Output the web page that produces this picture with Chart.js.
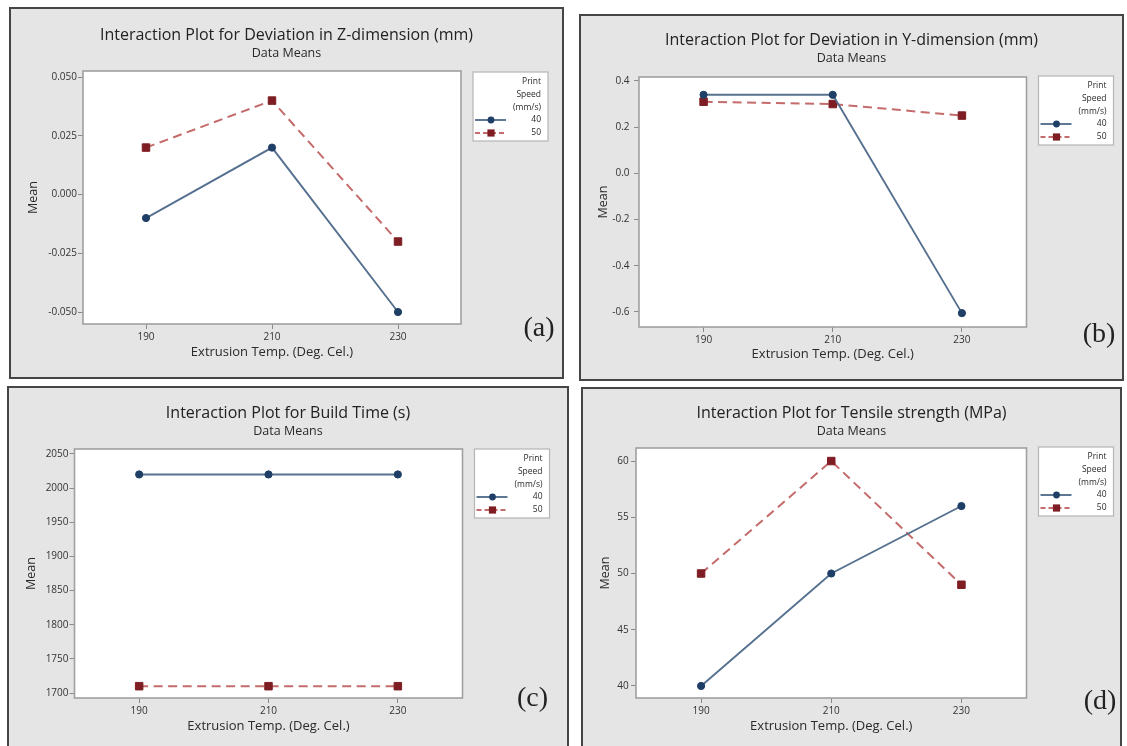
<!DOCTYPE html>
<html>
<head>
<meta charset="utf-8">
<title>Interaction Plots</title>
<script src="https://cdn.jsdelivr.net/npm/chart.js@4.4.1/dist/chart.umd.min.js"></script>
<style>
  html, body { margin: 0; padding: 0; background: #fff; overflow: hidden; }
  body { width: 1127px; height: 746px; position: relative; }
  .panel { position: absolute; background: #e5e5e5; border: 2px solid #454545; box-sizing: border-box; overflow: hidden; }
  .panel canvas { display: block; }
</style>
</head>
<body>
<div class="panel" style="left:9px; top:7px; width:555px; height:372px;"><canvas id="chartA" width="551" height="368"></canvas></div>
<div class="panel" style="left:579px; top:14px; width:545px; height:367px;"><canvas id="chartB" width="541" height="363"></canvas></div>
<div class="panel" style="left:7px; top:386px; width:562px; height:362px;"><canvas id="chartC" width="558" height="358"></canvas></div>
<div class="panel" style="left:581px; top:387px; width:541px; height:361px;"><canvas id="chartD" width="537" height="357"></canvas></div>
<script>
// Shared categories
const tempLabels = ['190', '210', '230'];
const speedLabels = ['40', '50'];
const legendHeading = ['Print', 'Speed', '(mm/s)'];

// (a) Deviation in Z-dimension (mm)
const zDev40 = [-0.01, 0.02, -0.05];
const zDev50 = [0.02, 0.04, -0.02];
const zTicks = ['-0.050', '-0.025', '0.000', '0.025', '0.050'];
const zRange = [-0.0551, 0.0526];

// (b) Deviation in Y-dimension (mm)
const yDev40 = [0.34, 0.34, -0.605];
const yDev50 = [0.31, 0.30, 0.25];
const yTicks = ['-0.6', '-0.4', '-0.2', '0.0', '0.2', '0.4'];
const yRange = [-0.665, 0.417];

// (c) Build Time (s)
const buildTime40 = [2020, 2020, 2020];
const buildTime50 = [1710, 1710, 1710];
const buildTicks = ['1700', '1750', '1800', '1850', '1900', '1950', '2000', '2050'];
const buildRange = [1692.7, 2057.3];

// (d) Tensile strength (MPa)
const tensile40 = [40, 50, 56];
const tensile50 = [50, 60, 49];
const tensileTicks = ['40', '45', '50', '55', '60'];
const tensileRange = [38.93, 61.16];

Chart.defaults.font.family = '"Open Sans", sans-serif';
Chart.defaults.color = '#333';

const TITLE_SIZE = 16;
const SUB_SIZE = 12.5;

// white plot area, frame, legend box and the (a)/(b) tag
const panelDecor = {
    id: 'panelDecor',
    beforeDraw(chart) {
        const { ctx, chartArea: a } = chart;
        ctx.save();
        ctx.fillStyle = '#ffffff';
        ctx.fillRect(a.left, a.top, a.right - a.left, a.bottom - a.top);
        ctx.restore();
    },
    afterDraw(chart, args, opts) {
        const { ctx, chartArea: a } = chart;
        ctx.save();
        ctx.strokeStyle = '#a0a0a0';
        ctx.lineWidth = 1.6;
        ctx.strokeRect(a.left, a.top, a.right - a.left, a.bottom - a.top);

        // legend
        const bx = a.right + 12, by = a.top + opts.legendDy;
        ctx.fillStyle = '#ffffff';
        ctx.fillRect(bx, by, 75, 69);
        ctx.strokeStyle = '#b5b5b5';
        ctx.lineWidth = 1.2;
        ctx.strokeRect(bx, by, 75, 69);
        ctx.font = '8.5px "Open Sans"';
        ctx.textAlign = 'right';
        ctx.textBaseline = 'middle';
        ctx.fillStyle = '#2a2a2a';
        legendHeading.forEach((t, i) => ctx.fillText(t, bx + 68, by + 10 + i * 12.8));
        chart.data.datasets.forEach((ds, i) => {
            const y = by + 48 + i * 13;
            ctx.strokeStyle = ds.borderColor;
            ctx.lineWidth = ds.borderWidth;
            ctx.setLineDash(ds.borderDash ? [5, 3] : []);
            ctx.beginPath();
            ctx.moveTo(bx + 2, y);
            ctx.lineTo(bx + 33, y);
            ctx.stroke();
            ctx.setLineDash([]);
            ctx.fillStyle = ds.pointBackgroundColor;
            if (ds.pointStyle === 'rect') {
                ctx.fillRect(bx + 18 - 3.6, y - 3.6, 7.2, 7.2);
            } else {
                ctx.beginPath();
                ctx.arc(bx + 18, y, 3.4, 0, Math.PI * 2);
                ctx.fill();
            }
            ctx.fillStyle = '#2a2a2a';
            ctx.fillText(ds.label, bx + 68, y);
        });

        // panel tag
        ctx.font = '28px "Liberation Serif", serif';
        ctx.textAlign = 'center';
        ctx.fillStyle = '#222';
        ctx.fillText(opts.tag, a.right + opts.tagDx, a.bottom + opts.tagDy);
        ctx.restore();
    }
};

function makeInteractionChart(id, cfg) {
    const canvas = document.getElementById(id);
    const w = canvas.width, h = canvas.height;
    const titleHalf = TITLE_SIZE * 1.2 / 2;
    const subHalf = SUB_SIZE * 1.2 / 2;
    const t1 = cfg.titleY - titleHalf;
    const t2 = cfg.subY - cfg.titleY - titleHalf - subHalf;
    const b2 = cfg.box.top - (cfg.subY + subHalf);

    return new Chart(canvas, {
        type: 'line',
        data: {
            labels: tempLabels,
            datasets: [{
                label: speedLabels[0],
                data: cfg.s40,
                borderColor: '#56718f',
                borderWidth: 1.9,
                pointStyle: 'circle',
                pointRadius: 3.6,
                pointBackgroundColor: '#1f3f66',
                pointBorderColor: '#1f3f66',
                pointBorderWidth: 1
            }, {
                label: speedLabels[1],
                data: cfg.s50,
                borderColor: '#c46b6b',
                borderWidth: 2,
                borderDash: [9, 5.5],
                pointStyle: 'rect',
                pointRadius: 5.3,
                pointBackgroundColor: '#7e1e24',
                pointBorderColor: '#7e1e24',
                pointBorderWidth: 1
            }]
        },
        options: {
            responsive: false,
            animation: false,
            layout: { padding: 0 },
            plugins: {
                legend: { display: false },
                tooltip: { enabled: false },
                title: {
                    display: true,
                    text: cfg.title,
                    color: '#222',
                    font: { size: TITLE_SIZE, weight: 'normal' },
                    padding: { top: t1, bottom: 0 }
                },
                subtitle: {
                    display: true,
                    text: 'Data Means',
                    color: '#2a2a2a',
                    font: { size: SUB_SIZE },
                    padding: { top: t2, bottom: b2 }
                },
                panelDecor: { tag: cfg.tag, tagDx: cfg.tagPos[0], tagDy: cfg.tagPos[1], legendDy: cfg.legendDy }
            },
            scales: {
                x: {
                    type: 'category',
                    offset: true,
                    grid: { offset: false, drawOnChartArea: false, drawTicks: true, tickLength: 5, color: '#8a8a8a' },
                    border: { display: false },
                    ticks: { padding: 2, maxRotation: 0, color: '#333', font: { size: 10 } },
                    title: {
                        display: true,
                        text: 'Extrusion Temp. (Deg. Cel.)',
                        color: '#2a2a2a',
                        font: { size: 13 },
                        padding: { top: 0, bottom: cfg.xTitlePad }
                    },
                    afterFit: scale => { scale.height = h - cfg.box.bottom; }
                },
                y: {
                    min: cfg.range[0],
                    max: cfg.range[1],
                    afterBuildTicks: scale => { scale.ticks = cfg.ticks.map(t => ({ value: parseFloat(t) })); },
                    grid: { drawOnChartArea: false, drawTicks: true, tickLength: 5, color: '#8a8a8a' },
                    border: { display: false },
                    ticks: {
                        padding: cfg.yTickPad,
                        color: '#333',
                        font: { size: 10 },
                        callback: (value, index) => cfg.ticks[index]
                    },
                    title: {
                        display: true,
                        text: 'Mean',
                        color: '#2a2a2a',
                        font: { size: 12.5 },
                        padding: { top: 14.5, bottom: 0 }
                    },
                    afterFit: scale => { scale.width = cfg.box.left; }
                },
                // empty right-hand axis that reserves the legend column
                legendSpace: {
                    type: 'linear',
                    position: 'right',
                    grid: { display: false },
                    border: { display: false },
                    ticks: { display: false },
                    afterFit: scale => { scale.width = w - cfg.box.right; }
                }
            }
        },
        plugins: [panelDecor]
    });
}

makeInteractionChart('chartA', {
    title: 'Interaction Plot for Deviation in Z-dimension (mm)',
    s40: zDev40, s50: zDev50, ticks: zTicks, range: zRange,
    box: { left: 72, right: 450, top: 62, bottom: 315 },
    titleY: 26.5, subY: 44.5, yTickPad: 1, xTitlePad: 16.5,
    legendDy: 1, tag: '(a)', tagPos: [78, 5]
});

makeInteractionChart('chartB', {
    title: 'Interaction Plot for Deviation in Y-dimension (mm)',
    s40: yDev40, s50: yDev50, ticks: yTicks, range: yRange,
    box: { left: 58, right: 445.5, top: 61, bottom: 311 },
    titleY: 24.5, subY: 42.5, yTickPad: 4.5, xTitlePad: 16.5,
    legendDy: -1, tag: '(b)', tagPos: [72.5, 8]
});

makeInteractionChart('chartC', {
    title: 'Interaction Plot for Build Time (s)',
    s40: buildTime40, s50: buildTime50, ticks: buildTicks, range: buildRange,
    box: { left: 65.5, right: 453.5, top: 61, bottom: 310 },
    titleY: 25.5, subY: 43.5, yTickPad: 1, xTitlePad: 11.5,
    legendDy: 0, tag: '(c)', tagPos: [70, 1]
});

makeInteractionChart('chartD', {
    title: 'Interaction Plot for Tensile strength (MPa)',
    s40: tensile40, s50: tensile50, ticks: tensileTicks, range: tensileRange,
    box: { left: 53, right: 443.5, top: 59, bottom: 309 },
    titleY: 24.5, subY: 42.5, yTickPad: 2.3, xTitlePad: 11.8,
    legendDy: -1, tag: '(d)', tagPos: [73.5, 4]
});
</script>
</body>
</html>
